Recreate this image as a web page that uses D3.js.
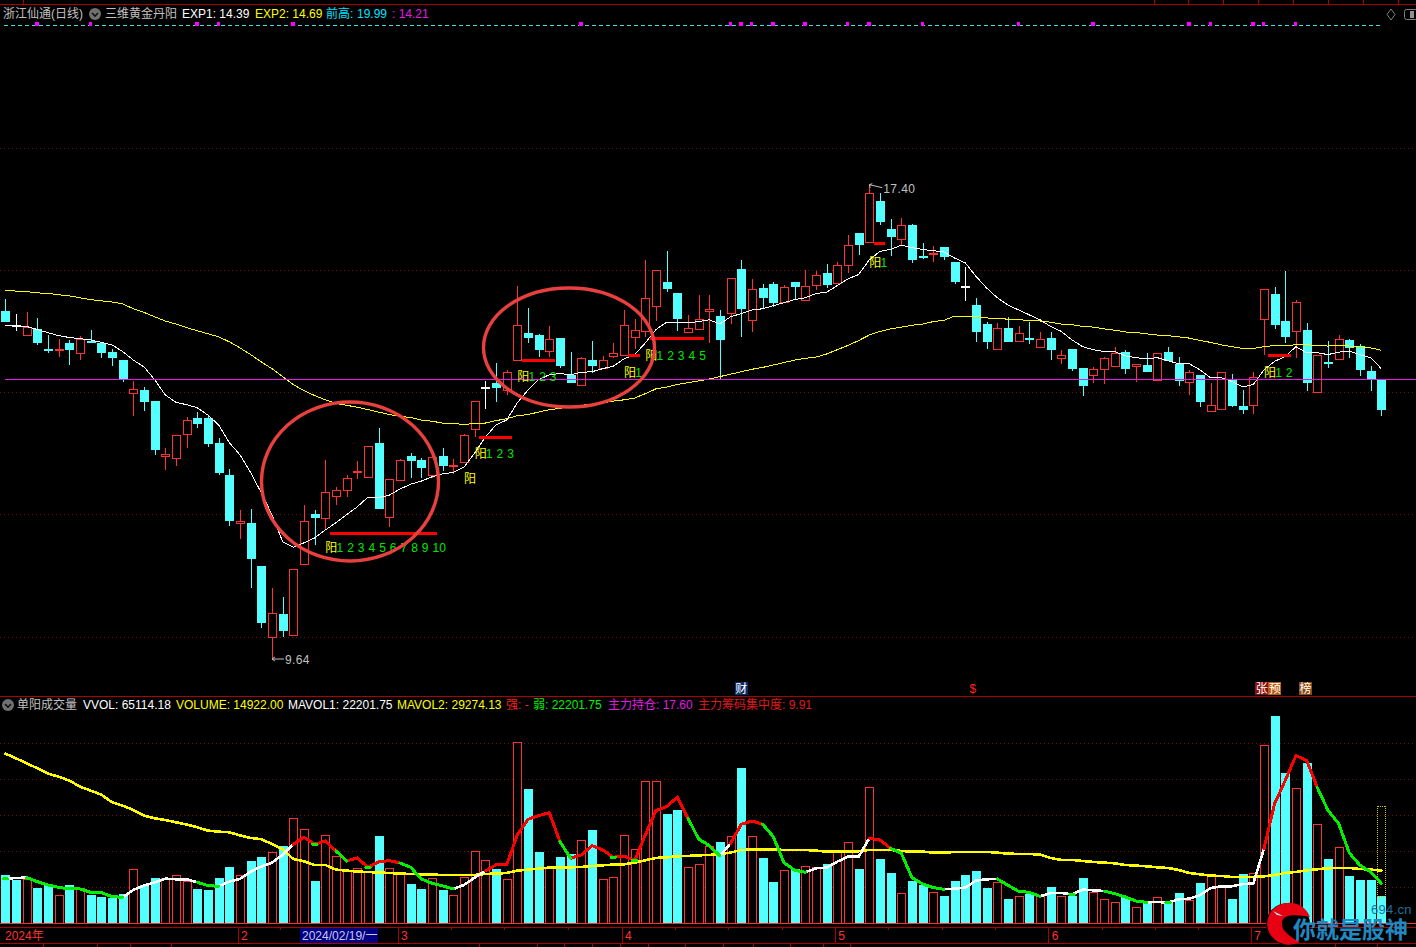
<!DOCTYPE html>
<html>
<head>
<meta charset="utf-8">
<title>浙江仙通</title>
<script src="https://cdn.jsdelivr.net/npm/d3@7"></script>
<style>
    html, body { margin: 0; padding: 0; background: #000; }
    svg { display: block; }
    text { font-family: "Liberation Sans", "Noto Sans CJK SC", sans-serif; font-size: 12px; }
</style>
</head>
<body>
<div id="chart"></div>
<script>
//K线数据，共130根
const opens = [
    15.32,15.10,14.93,15.03,14.71,14.69,14.80,14.64,14.84,14.80,
    14.65,14.53,13.98,14.04,13.86,12.96,12.92,13.31,13.57,13.57,
    13.16,12.64,11.86,11.85,11.15,9.99,10.36,10.02,11.18,12.00,
    11.94,12.30,12.40,12.69,12.61,13.16,11.96,12.56,12.96,12.88,
    12.65,12.96,12.79,12.85,13.39,14.08,14.15,14.04,14.52,14.97,
    14.94,14.67,14.88,14.28,14.11,14.52,14.39,14.59,14.61,14.90,
    15.00,15.41,15.80,15.62,14.98,15.03,15.33,15.24,15.29,16.01,
    15.18,15.70,15.76,15.47,15.80,15.51,15.75,15.94,15.78,16.08,
    16.60,16.45,17.12,16.66,16.50,16.74,16.23,16.26,16.38,16.12,
    15.74,15.42,15.11,14.70,15.04,14.83,14.89,14.74,14.89,14.56,
    14.71,14.39,14.28,14.38,14.43,14.65,14.43,14.44,14.20,14.65,
    14.45,14.16,14.27,13.69,13.72,14.21,13.77,13.79,15.19,15.60,
    15.16,15.00,15.01,14.00,14.49,14.54,14.85,14.76,14.34,14.22
];
const closes = [
    15.16,15.10,15.07,14.81,14.69,14.71,14.71,14.87,14.81,14.65,
    14.58,14.22,14.05,13.85,13.06,12.98,13.29,13.55,13.49,13.16,
    12.69,11.90,11.89,11.28,10.23,10.39,10.11,11.11,11.89,11.95,
    12.37,12.39,12.60,12.71,13.12,12.10,12.57,12.88,12.88,12.77,
    12.93,12.80,12.81,13.29,13.86,14.08,14.08,14.33,15.10,14.90,
    14.71,14.87,14.44,14.16,14.56,14.44,14.53,14.64,15.09,15.02,
    15.53,16.00,15.70,15.21,15.04,15.20,15.35,14.86,15.86,15.37,
    15.69,15.55,15.48,15.71,15.73,15.73,15.91,15.76,16.07,16.40,
    16.42,17.26,16.79,16.56,16.74,16.17,16.21,16.28,16.22,15.81,
    15.74,14.99,14.83,15.04,14.83,14.96,14.87,14.87,14.70,14.61,
    14.40,14.11,14.38,14.56,14.64,14.39,14.45,14.35,14.64,14.53,
    14.19,14.32,13.85,13.78,14.33,13.78,13.72,14.25,15.68,15.11,
    14.91,15.48,14.17,14.61,14.47,14.87,14.73,14.37,14.22,13.72
];
const highs = [
    15.53,15.29,15.31,15.22,14.94,14.87,14.86,14.93,15.03,14.80,
    14.71,14.53,14.19,14.09,13.86,13.09,13.29,13.60,13.68,13.63,
    13.26,12.75,12.08,12.10,11.15,10.80,10.65,11.11,12.16,12.08,
    12.90,12.46,12.65,12.88,13.12,13.42,12.59,12.91,13.01,12.93,
    13.01,13.09,12.91,13.32,13.86,14.19,14.49,14.37,15.75,15.39,
    14.96,15.09,14.88,14.67,14.58,14.85,14.60,14.81,15.35,15.21,
    16.16,16.00,16.32,15.63,15.27,15.60,15.60,15.35,15.86,16.17,
    15.86,15.78,15.81,15.76,15.80,16.01,15.99,16.11,16.14,16.58,
    16.61,17.40,17.27,16.84,16.86,16.76,16.45,16.40,16.38,16.12,
    16.06,15.55,15.16,15.14,15.24,15.09,15.16,14.99,14.99,14.70,
    14.71,14.40,14.42,14.58,14.75,14.70,14.47,14.65,14.64,14.75,
    14.58,14.37,14.27,14.16,14.33,14.31,14.04,14.34,15.68,15.73,
    15.99,15.52,15.14,14.61,14.85,14.94,14.88,14.80,14.44,14.22
];
const lows = [
    15.16,15.01,14.93,14.77,14.65,14.58,14.45,14.53,14.81,14.57,
    14.44,14.17,13.62,13.70,12.98,12.73,12.80,13.09,13.42,13.11,
    12.65,11.82,11.60,10.80,10.15,9.64,10.00,10.02,11.18,11.51,
    11.75,12.16,12.29,12.59,12.61,12.10,11.80,12.56,12.60,12.60,
    12.60,12.72,12.67,12.85,13.27,13.73,13.85,13.96,14.52,14.81,
    14.58,14.58,14.40,14.16,14.11,14.32,14.39,14.57,14.61,14.71,
    14.90,15.17,15.65,15.01,14.98,15.03,14.81,14.22,15.12,14.90,
    14.99,15.39,15.40,15.47,15.52,15.51,15.68,15.71,15.78,15.96,
    16.25,16.45,16.74,16.24,16.42,16.12,16.19,16.14,16.17,15.78,
    15.50,14.83,14.71,14.70,14.83,14.83,14.80,14.74,14.53,14.47,
    14.35,13.95,14.16,14.14,14.43,14.31,14.17,14.34,14.20,14.52,
    14.11,13.96,13.77,13.69,13.72,13.77,13.65,13.65,14.62,15.04,
    14.81,14.57,14.03,14.00,14.40,14.54,14.57,14.27,14.03,13.62
];
const exp1 = [
    15.09,15.09,15.08,15.03,14.98,14.93,14.90,14.88,14.86,14.82,
    14.78,14.67,14.53,14.42,14.21,13.96,13.84,13.80,13.75,13.63,
    13.47,13.18,12.98,12.69,12.36,12.00,11.56,11.47,11.54,11.62,
    11.75,11.87,12.00,12.13,12.29,12.28,12.32,12.42,12.50,12.55,
    12.62,12.67,12.69,12.78,13.01,13.27,13.47,13.55,13.83,14.04,
    14.21,14.29,14.31,14.29,14.33,14.34,14.39,14.43,14.55,14.62,
    14.81,15.03,15.15,15.15,15.14,15.16,15.19,15.12,15.24,15.29,
    15.35,15.37,15.42,15.47,15.52,15.55,15.62,15.64,15.75,15.86,
    15.93,16.17,16.31,16.34,16.41,16.37,16.34,16.32,16.30,16.20,
    16.12,15.90,15.71,15.55,15.43,15.35,15.27,15.19,15.08,15.00,
    14.86,14.75,14.70,14.67,14.67,14.60,14.57,14.55,14.57,14.52,
    14.47,14.47,14.37,14.24,14.24,14.18,14.09,14.13,14.37,14.51,
    14.59,14.75,14.65,14.65,14.62,14.66,14.68,14.62,14.57,14.39
];
const exp2 = [
    15.67,15.66,15.65,15.63,15.62,15.60,15.58,15.55,15.52,15.50,
    15.48,15.45,15.37,15.31,15.24,15.17,15.12,15.06,15.01,14.96,
    14.91,14.83,14.73,14.62,14.50,14.39,14.26,14.13,14.03,13.95,
    13.88,13.82,13.79,13.76,13.72,13.68,13.64,13.61,13.59,13.55,
    13.53,13.50,13.49,13.48,13.49,13.50,13.54,13.57,13.62,13.64,
    13.68,13.72,13.74,13.77,13.79,13.81,13.83,13.86,13.88,13.91,
    13.98,14.06,14.09,14.13,14.16,14.19,14.22,14.26,14.30,14.34,
    14.38,14.41,14.45,14.49,14.53,14.56,14.58,14.63,14.70,14.77,
    14.85,14.94,15.00,15.04,15.07,15.10,15.12,15.16,15.18,15.25,
    15.25,15.24,15.22,15.21,15.20,15.19,15.18,15.17,15.15,15.12,
    15.11,15.08,15.07,15.04,15.02,14.99,14.98,14.96,14.94,14.93,
    14.91,14.89,14.85,14.82,14.78,14.75,14.72,14.72,14.75,14.77,
    14.77,14.78,14.78,14.77,14.76,14.77,14.76,14.75,14.73,14.69
];

//成交量及均量
const volumes = [
    26300,23520,24080,19080,21300,15190,20740,19080,15190,14080,
    13520,16110,30000,20740,24630,24630,26670,22960,18520,17960,
    24630,30740,26670,34080,36300,39080,42410,58340,52230,22960,
    48890,36850,29080,30190,28710,47970,30560,27780,21300,18520,
    25000,17960,15560,25560,40000,35000,29630,24450,100560,74080,
    39080,31110,36300,37970,46110,51300,24450,25560,48890,41110,
    78900,78900,60190,62410,31110,32780,42410,44630,48340,85750,
    48340,35740,22410,29450,30000,31670,31110,32780,39080,45000,
    29630,75560,35190,27410,16670,22960,20740,17220,14630,23340,
    26670,28890,19450,22780,13330,15000,16110,15000,20000,15000,
    15000,25000,17220,13330,11670,14450,8890,11670,14450,11670,
    16670,12780,22220,26110,20190,13330,27220,27780,98900,115000,
    83340,74820,88900,54820,35560,42040,26110,23890,23890,14922
];
const mavol1 = [
    24630,25190,25370,23150,21300,20000,19080,19080,17220,17040,
    14820,14450,18520,20930,22780,24820,24450,24450,22780,20930,
    20560,23150,24630,28710,31480,33710,37970,43890,47780,43890,
    45740,40190,34630,36300,31110,34080,34820,33520,31110,24630,
    22220,20740,19080,21300,25370,29080,32410,32410,49080,57780,
    59820,61490,45370,36110,37970,43150,40740,36670,37410,34820,
    49080,62600,64820,70010,58340,46860,43150,37410,44450,55000,
    56860,55000,48150,33710,29450,28340,30560,30930,34260,37040,
    37040,47230,46300,41670,38890,25370,21850,19820,18890,19260,
    19820,23710,24450,24630,21110,17780,17220,15000,16850,16850,
    16110,18710,18330,17960,16480,14630,12410,11670,11850,11480,
    13330,13700,15560,19630,20560,20560,21850,22040,41480,66490,
    79450,93160,90560,75380,62780,55370,39080,32220,28520,22202
];
const mavol2 = [
    94270,91670,88900,86120,83150,81490,79270,75930,73710,71490,
    67230,65380,62970,59820,58340,57410,56120,54820,53340,51490,
    50930,50560,48890,47410,46670,44080,41110,35740,34450,32410,
    32410,29820,29260,28710,28520,28150,27970,27590,27410,27220,
    27040,26850,26850,26850,26850,27410,27590,27970,29260,29820,
    30370,30930,31110,31110,31300,31850,32220,32600,32780,33710,
    35000,36300,36670,37230,37410,37780,37970,38520,39260,40740,
    40930,41110,41110,40740,40740,40740,40370,39820,39820,39820,
    40000,40740,40740,40740,40190,39820,39820,39260,39260,39630,
    39630,39630,39630,39260,38710,38520,38520,38150,36300,35190,
    35190,34630,34080,33710,33340,32410,32040,31670,31110,30740,
    29630,27970,27220,26480,26300,25740,25740,25740,26110,26850,
    27970,28520,29450,30000,30560,30740,30740,30190,29820,29274
];
const vvolLast = 65114.18;
//MAVOL1 上的强、弱区段（K线序号起止），其余为白色
const strongRuns = [[27,31],[32,37],[45,52],[53,64],[68,71],[81,83],[118,123]];
const weakRuns = [[0,0],[2,11],[18,20],[29,29],[31,32],[34,34],[37,42],[52,53],[57,57],[59,59],[64,67],[71,75],[83,88],[93,97],[100,100],[103,107],[109,109],[123,129]];

//网格与坐标
const priceTicks = [10, 12, 14, 16, 18];
const volumeTicks = [20000, 40000, 60000, 80000, 100000];
const refPrice = 14.21;
const lowMark = { index: 25, price: 9.64 };
const highMark = { index: 81, price: 17.40 };
const monthTicks = [[22, "2"], [37, "3"], [58, "4"], [78, "5"], [98, "6"], [117, "7"]];
const minorTicks = [26,42,47,53,63,68,73,83,88,93,103,108,112];
const topMarks = [3,8,18,20,27,54,68,69,70,72,75,79,81,86,95,102,111,113,117,118,121];

//阳线信号：起始K线、计数、文字所在价位、红线所在价位
const signalStarts = [30, 43, 44, 48, 58, 60, 81, 118];
const signalCounts = [10, 0, 3, 3, 1, 5, 1, 2];
const signalTextPrices = [11.47, 12.59, 13.00, 14.26, 14.32, 14.60, 16.12, 14.32];
const signalBarPrices = [11.70, null, 13.26, 14.52, 14.60, 14.88, 16.43, 14.60];

//标题文字
const mainLegend = [
    ["浙江仙通(日线)", 3, "#C0C0C0"], ["三维黄金丹阳", 105, "#C0C0C0"],
    ["EXP1: 14.39", 182, "#FFFFFF"], ["EXP2: 14.69", 255, "#FFFF00"],
    ["前高:", 326, "#00E4FF"], ["19.99", 357, "#00E4FF"], [": 14.21", 392, "#E619E6"]
];
const volumeLegend = [
    ["单阳成交量", 17, "#C0C0C0"], ["VVOL: 65114.18", 83, "#FFFFFF"],
    ["VOLUME: 14922.00", 176, "#FFFF00"], ["MAVOL1: 22201.75", 288, "#FFFFFF"],
    ["MAVOL2: 29274.13", 397, "#FFFF00"], ["强: -", 506, "#FF2020"],
    ["弱: 22201.75", 533, "#00F000"], ["主力持仓: 17.60", 608, "#E619E6"],
    ["主力筹码集中度: 9.91", 698, "#E01818"]
];

const RED = "#FF3232", CYAN = "#54FFFF", LINE = "#AA0000", GRID = "#701212";

const svg = d3.select("#chart").append("svg").attr("width", 1416).attr("height", 947);

const xScale = d3.scaleLinear().domain([0, 129]).range([5.3, 1381.3]);
const yPrice = d3.scaleLinear().domain([10, 18]).range([637, 148]);
const yVolume = d3.scaleLinear().domain([0, 100000]).range([923.3, 743.3]);
const indexes = d3.range(opens.length);
const bodyWidth = 9;

const gCrisp = svg.append("g").attr("shape-rendering", "crispEdges");

//边框线和网格
function hLine(y, color, x1 = 0, x2 = 1416) {
    return gCrisp.append("line").attr("x1", x1).attr("x2", x2).attr("y1", y).attr("y2", y).attr("stroke", color);
}
hLine(4.5, LINE);
hLine(696.5, LINE);
hLine(927.5, LINE);
hLine(943.5, LINE);
[23, 1154, 1188, 1223, 1258, 1293, 1328, 1363, 1398].forEach(x => {
    gCrisp.append("line").attr("x1", x).attr("x2", x).attr("y1", 0).attr("y2", 4).attr("stroke", LINE);
});
[43, 97, 130, 171, 479, 537, 564, 592, 620, 648, 685, 723, 753, 790, 823, 850, 1335, 1377].forEach(x => {
    gCrisp.append("line").attr("x1", x).attr("x2", x).attr("y1", 943).attr("y2", 947).attr("stroke", LINE);
});

gCrisp.selectAll("line.priceGrid").data(priceTicks).join("line").classed("priceGrid", true)
    .attr("x1", 0).attr("x2", 1416)
    .attr("y1", d => yPrice(d)).attr("y2", d => yPrice(d))
    .attr("stroke", GRID).attr("stroke-dasharray", "1 3");
gCrisp.selectAll("line.volGrid").data(volumeTicks).join("line").classed("volGrid", true)
    .attr("x1", 0).attr("x2", 1416)
    .attr("y1", d => yVolume(d)).attr("y2", d => yVolume(d))
    .attr("stroke", GRID).attr("stroke-dasharray", "1 3");

//顶部虚线和紫色小方块
hLine(25.5, "#3FE0E0", 4, 1381).attr("stroke-dasharray", "4 3");
gCrisp.selectAll("rect.topMark").data(topMarks).join("rect").classed("topMark", true)
    .attr("x", d => xScale(d) - 2).attr("y", 22).attr("width", 3.5).attr("height", 3.5)
    .attr("fill", "#FF00FF");

//K线颜色
function candleColor(i) {
    if (closes[i] > opens[i]) return RED;
    if (closes[i] < opens[i]) return CYAN;
    return "#FFFFFF";
}

//影线
gCrisp.selectAll("line.wick").data(indexes).join("line").classed("wick", true)
    .attr("x1", i => Math.round(xScale(i)) + 0.5).attr("x2", i => Math.round(xScale(i)) + 0.5)
    .attr("y1", i => yPrice(highs[i])).attr("y2", i => yPrice(lows[i]))
    .attr("stroke", candleColor);

//实体
gCrisp.selectAll("rect.body").data(indexes).join("rect").classed("body", true)
    .attr("x", i => Math.round(xScale(i)) - 4 + 0.5)
    .attr("width", bodyWidth - 1)
    .attr("y", i => yPrice(Math.max(opens[i], closes[i])))
    .attr("height", i => Math.max(1, Math.abs(yPrice(opens[i]) - yPrice(closes[i]))))
    .attr("fill", i => closes[i] > opens[i] ? "#000" : candleColor(i))
    .attr("stroke", candleColor);

//均线
const priceLine = d3.line().x((d, i) => xScale(i)).y(d => yPrice(d));
gCrisp.append("path").attr("d", priceLine(exp2)).attr("fill", "none").attr("stroke", "#FFFF00");
gCrisp.append("path").attr("d", priceLine(exp1)).attr("fill", "none").attr("stroke", "#FFFFFF");

//14.21 水平线
hLine(yPrice(refPrice), "#E619E6", 5);

//信号红线
gCrisp.selectAll("rect.signalBar").data(indexes.slice(0, signalStarts.length).filter(k => signalBarPrices[k] !== null))
    .join("rect").classed("signalBar", true)
    .attr("x", k => xScale(signalStarts[k] + 0.4))
    .attr("width", k => xScale(signalStarts[k] + signalCounts[k] + 0.5) - xScale(signalStarts[k] + 0.4))
    .attr("y", k => yPrice(signalBarPrices[k]) - 1.5).attr("height", 3)
    .attr("fill", "#FF0000");

//信号文字
signalStarts.forEach((start, k) => {
    const y = yPrice(signalTextPrices[k]) + 4.5;
    svg.append("text").attr("x", xScale(start)).attr("y", y).attr("fill", "#FFFF00").text("阳");
    d3.range(1, signalCounts[k] + 1).forEach(n => {
        svg.append("text").attr("x", xScale(start + n) + 0.5).attr("y", y).attr("fill", "#00E800").text(n);
    });
});

//最高最低价标注
const markColor = "#C0C0C0";
svg.append("path")
    .attr("d", `M${xScale(lowMark.index)},${yPrice(lowMark.price)}h12M${xScale(lowMark.index)},${yPrice(lowMark.price)}l3,-2M${xScale(lowMark.index)},${yPrice(lowMark.price)}l3,2`)
    .attr("stroke", markColor).attr("fill", "none");
svg.append("text").attr("x", xScale(lowMark.index) + 13).attr("y", yPrice(lowMark.price) + 5)
    .attr("fill", markColor).style("letter-spacing", "0.4px").text(lowMark.price.toFixed(2));
svg.append("path")
    .attr("d", `M${xScale(highMark.index)},${yPrice(highMark.price)}l13,3M${xScale(highMark.index)},${yPrice(highMark.price)}l3,-1M${xScale(highMark.index)},${yPrice(highMark.price)}l1,3`)
    .attr("stroke", markColor).attr("fill", "none");
svg.append("text").attr("x", xScale(highMark.index) + 14).attr("y", yPrice(highMark.price) + 8)
    .attr("fill", markColor).style("letter-spacing", "0.4px").text(highMark.price.toFixed(2));

//成交量柱，平盘时与前一日比较
function volumeUp(i) {
    if (closes[i] !== opens[i]) return closes[i] > opens[i];
    return i > 0 && closes[i] > closes[i - 1];
}
gCrisp.selectAll("rect.vol").data(indexes).join("rect").classed("vol", true)
    .attr("x", i => Math.round(xScale(i)) - 4 + 0.5)
    .attr("width", bodyWidth - 1)
    .attr("y", i => yVolume(volumes[i]))
    .attr("height", i => yVolume(0) - yVolume(volumes[i]))
    .attr("fill", i => volumeUp(i) ? "#000" : CYAN)
    .attr("stroke", i => volumeUp(i) ? RED : CYAN);

//最后一根的虚拟成交量
gCrisp.append("rect")
    .attr("x", Math.round(xScale(129)) - 4 + 0.5).attr("width", bodyWidth - 1)
    .attr("y", yVolume(vvolLast)).attr("height", yVolume(volumes[129]) - yVolume(vvolLast))
    .attr("fill", "none").attr("stroke", "#C8C800").attr("stroke-dasharray", "1 1");

//量能基线
hLine(yVolume(0), "#FF3232");

//量均线
const volLine = d3.line().x(d => xScale(d[0])).y(d => yVolume(d[1]));
function drawVolRun(values, from, to, color, width) {
    let pts = d3.range(from, to + 1).map(i => [i, values[i]]);
    if (from === to) pts = [[from - 0.2, values[from]], [from + 0.2, values[from]]];
    gCrisp.append("path").attr("d", volLine(pts)).attr("fill", "none")
        .attr("stroke", color).attr("stroke-width", width).attr("stroke-linecap", "round");
}
drawVolRun(mavol2, 0, 129, "#FFFF00", 2.6);
drawVolRun(mavol1, 0, 129, "#FFFFFF", 2.6);
strongRuns.forEach(r => drawVolRun(mavol1, r[0], r[1], "#FF0000", 3));
weakRuns.forEach(r => drawVolRun(mavol1, r[0], r[1], "#00F000", 3));

//时间轴
gCrisp.selectAll("line.month").data(monthTicks).join("line").classed("month", true)
    .attr("x1", d => xScale(d[0]) - 1.7).attr("x2", d => xScale(d[0]) - 1.7)
    .attr("y1", 927).attr("y2", 943).attr("stroke", LINE);
gCrisp.selectAll("line.minor").data(minorTicks).join("line").classed("minor", true)
    .attr("x1", d => xScale(d) - 1.7).attr("x2", d => xScale(d) - 1.7)
    .attr("y1", 927).attr("y2", 930).attr("stroke", LINE);
svg.selectAll("text.month").data(monthTicks).join("text").classed("month", true)
    .attr("x", d => xScale(d[0]) + 1).attr("y", 940).attr("fill", RED).text(d => d[1]);
svg.append("text").attr("x", 5).attr("y", 940).attr("fill", RED).text("2024年");
gCrisp.append("rect").attr("x", 300).attr("y", 928).attr("width", 78).attr("height", 15).attr("fill", "#000080");
svg.append("text").attr("x", 302).attr("y", 940).attr("fill", "#C8C8F0").text("2024/02/19/一");

//标题栏
function drawLegend(items, y) {
    svg.append("g").selectAll("text").data(items).join("text")
        .attr("x", d => d[1]).attr("y", y).attr("fill", d => d[2]).text(d => d[0]);
}
drawLegend(mainLegend, 18);
drawLegend(volumeLegend, 709);

function drawChevron(cx, cy, r) {
    svg.append("circle").attr("cx", cx).attr("cy", cy).attr("r", r).attr("fill", "#707070");
    svg.append("path").attr("d", `M${cx - 3},${cy - 1}l3,3l3,-3`).attr("fill", "none")
        .attr("stroke", "#101010").attr("stroke-width", 1.6);
}
drawChevron(95, 14, 6);
drawChevron(8, 705, 6);

//右上角图标
svg.append("path").attr("d", "M1391,9l4,5.5l-4,5.5l-4,-5.5Z").attr("fill", "none").attr("stroke", "#808080");
svg.append("rect").attr("x", 1404.5).attr("y", 9.5).attr("width", 13).attr("height", 10).attr("rx", 2)
    .attr("fill", "none").attr("stroke", "#808080");
svg.append("rect").attr("x", 1410).attr("y", 11).attr("width", 4).attr("height", 7).attr("fill", "#909090");

//事件标记
const badgeTexts = ["财", "$", "张", "预", "榜"];
const badgeIndexes = [69, 90.7, 117.8, 119, 121.9];
const badgeFills = ["#0A2A6A", "none", "#8A0F0F", "#B85A10", "#8A4A10"];
const badgeColors = ["#FFFFFF", "#FF2020", "#FFFFFF", "#FFFFFF", "#FFFFFF"];
badgeTexts.forEach((t, k) => {
    const cx = xScale(badgeIndexes[k]);
    if (badgeFills[k] !== "none") {
        gCrisp.append("rect").attr("x", cx - 6.5).attr("y", 682).attr("width", 13).attr("height", 13).attr("fill", badgeFills[k]);
    }
    svg.append("text").attr("x", cx).attr("y", 693).attr("text-anchor", "middle")
        .attr("fill", badgeColors[k]).text(t);
});

//手绘圆圈
const circleColor = "#E8403E";
svg.append("ellipse").attr("cx", 350).attr("cy", 481.5).attr("rx", 88.5).attr("ry", 79.5)
    .attr("fill", "none").attr("stroke", circleColor).attr("stroke-width", 3.4);
svg.append("ellipse").attr("cx", 569).attr("cy", 347.5).attr("rx", 85.5).attr("ry", 59.5)
    .attr("fill", "none").attr("stroke", circleColor).attr("stroke-width", 3.4);

//水印
svg.append("ellipse").attr("cx", 1288).attr("cy", 924).attr("rx", 22).attr("ry", 21).attr("fill", "#000");
svg.append("path")
    .attr("d", "M1310,917A22,21 0 1 0 1300,942C1288,936 1281,930 1282,922C1283,914 1296,914 1310,917Z")
    .attr("fill", "#E60012");
svg.append("path").attr("d", "M1273,911l10,5l-6,-1Z").attr("fill", "#BFE8F5");
svg.append("text").attr("x", 1293).attr("y", 938).attr("fill", "#2288C0")
    .style("font-size", "23px").style("font-weight", 700).text("你就是股神");
svg.append("text").attr("x", 1371).attr("y", 914).attr("fill", "#1F6E9C")
    .style("font-size", "13px").style("letter-spacing", "0.3px").text("694.cn");
</script>
</body>
</html>
